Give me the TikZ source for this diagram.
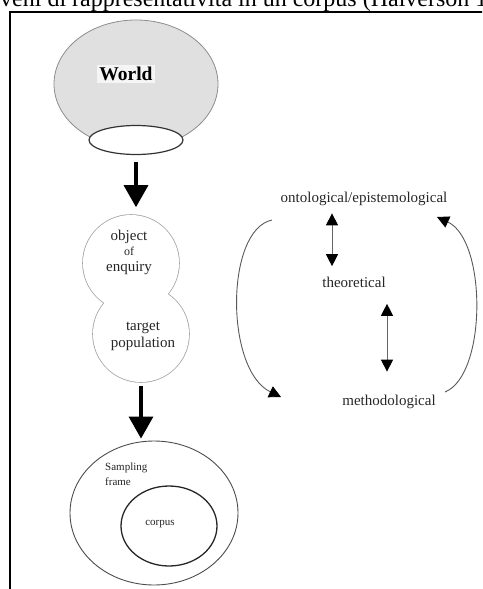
\documentclass[tikz,border=0pt]{standalone}
\usepackage{fontspec}
\setmainfont{Liberation Serif}
\usetikzlibrary{arrows.meta, shapes.geometric, calc}

\begin{document}
\begin{tikzpicture}[x=1pt, y=-1pt,
    bigarrow/.style={line width=3.2pt, -{Triangle[length=22pt,width=24pt]}},
    twoway/.style={line width=0.9pt, draw=black!60, {Triangle[length=12pt,width=12pt,color=black]}-{Triangle[length=12pt,width=12pt,color=black]}},
    roundtrip/.style={line width=0.9pt, draw=black!65, -{Triangle[length=12pt,width=12pt,color=black]}},
    blob/.style={circle, draw=black!35, line width=1.6pt, minimum size=96pt, inner sep=0pt},
    word/.style={font=\fontsize{15}{17}\selectfont, text=black!85},
    small/.style={font=\fontsize{11}{15}\selectfont, text=black!85}]
    \useasboundingbox (0,0) rectangle (482,589);
    \clip (0,0) rectangle (482,589);

    % caption line, cut off at the top
    \node[anchor=base west, inner sep=0pt, font=\fontsize{24}{28}\selectfont] (caption) at (0,6.5) {veni di rappresentatività in un corpus (Halverson 1};
    \draw[line width=2.5pt] (10,590) -- (10,12) -- (483,12);

    % world
    \node[ellipse, draw=black!45, fill=black!12, line width=0.8pt, minimum width=164pt, minimum height=128pt, inner sep=0pt] (world) at (136,84) {};
    \node[font=\fontsize{19.5}{22}\selectfont\bfseries, fill=black!4, inner sep=2pt] (worldname) at (126,74) {World};
    \node[ellipse, draw=black!80, fill=white, line width=1.2pt, minimum width=94pt, minimum height=29pt, inner sep=0pt] (hole) at (136,140) {};

    % object of enquiry / target population
    \node[blob] (obj) at (131,263) {};
    \node[blob] (target) at (141,334) {};
    \fill[white] (obj.center) circle[radius=48pt] (target.center) circle[radius=48pt];
    \node[word, align=center, inner sep=0pt] (objname) at (129,252) {object\\[-1.5pt]{\fontsize{12}{13}\selectfont of}\\[-1.5pt]enquiry};
    \node[word, align=center, inner sep=0pt] (targetname) at (143,336) {target\\population};

    % sampling frame
    \node[ellipse, draw=black!70, line width=0.9pt, minimum width=168pt, minimum height=144pt, inner sep=0pt] (frame) at (154,513) {};
    \node[ellipse, draw=black!85, line width=1.3pt, minimum width=96pt, minimum height=80pt, inner sep=0pt] (corpus) at (169,526) {};
    \node[small, align=left, anchor=west, inner sep=0pt] (framename) at (105,474) {Sampling\\frame};
    \node[small] (corpusname) at (160,524) {corpus};

    \draw[bigarrow, shorten <=7pt, shorten >=7pt] (hole.south) -- (hole.south |- obj.north);
    \draw[bigarrow, shorten <=3pt, shorten >=2pt] (target.south) -- (target.south |- frame.north);

    % levels
    \node[word] (onto) at (364,199) {ontological/epistemological};
    \node[word] (theo) at (354,282) {theoretical};
    \node[word] (meth) at (389,402) {methodological};
    \draw[twoway, shorten <=4pt, shorten >=7pt] ([xshift=-32pt]onto.south) -- ([xshift=-22pt]theo.north);
    \draw[twoway, shorten <=13pt, shorten >=20pt] ([xshift=33pt]theo.south) -- ([xshift=-2pt]meth.north);

    \coordinate (downA) at (272,220);
    \coordinate (downB) at (281,397);
    \coordinate (upA) at (445,392);
    \coordinate (upB) at (437,217);
    \draw[roundtrip] (downA) .. controls (225,230) and (225,370) .. (downB);
    \draw[roundtrip] (upA) .. controls (487,375) and (487,240) .. (upB);
\end{tikzpicture}
\end{document}
